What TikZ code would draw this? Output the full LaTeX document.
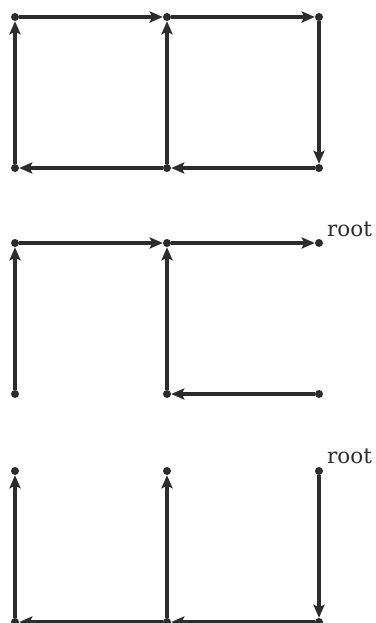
\documentclass[tikz,border=0pt]{standalone}
\usepackage{fontspec}
\newfontfamily\lblfont{DejaVu Serif}
\usetikzlibrary{arrows.meta}
\definecolor{ink}{HTML}{2E2B2B}
\tikzset{
  vtx/.style={circle,fill=ink,inner sep=0pt,minimum size=8pt},
  edge/.style={draw=ink,line width=3.2pt,-{Stealth[length=13pt,width=11pt,inset=2.5pt]}},
  rootlbl/.style={anchor=base west,text=ink,inner sep=0pt,font=\lblfont\fontsize{21.5}{26}\selectfont}
}
\begin{document}
\begin{tikzpicture}[x=1pt,y=-1pt]
\useasboundingbox (0,0) rectangle (375,623);
% full graph
\node[vtx] (a1) at (15,17) {};
\node[vtx] (a2) at (167,17) {};
\node[vtx] (a3) at (319,17) {};
\node[vtx] (a4) at (15,168) {};
\node[vtx] (a5) at (167,168) {};
\node[vtx] (a6) at (319,168) {};
\draw[edge] (a1) -- (a2);
\draw[edge] (a2) -- (a3);
\draw[edge] (a3) -- (a6);
\draw[edge] (a6) -- (a5);
\draw[edge] (a5) -- (a4);
\draw[edge] (a4) -- (a1);
\draw[edge] (a5) -- (a2);
% first tree
\node[vtx] (b1) at (15,243) {};
\node[vtx] (b2) at (167,243) {};
\node[vtx] (b3) at (319,243) {};
\node[vtx] (b4) at (15,394) {};
\node[vtx] (b5) at (167,394) {};
\node[vtx] (b6) at (319,394) {};
\draw[edge] (b4) -- (b1);
\draw[edge] (b1) -- (b2);
\draw[edge] (b5) -- (b2);
\draw[edge] (b6) -- (b5);
\draw[edge] (b2) -- (b3);
\node[rootlbl] (rb) at ([xshift=8pt,yshift=7pt]b3.center) {root};
% second tree
\node[vtx] (c1) at (15,471) {};
\node[vtx] (c2) at (167,471) {};
\node[vtx] (c3) at (319,471) {};
\node[vtx] (c4) at (15,622) {};
\node[vtx] (c5) at (167,622) {};
\node[vtx] (c6) at (319,622) {};
\draw[edge] (c4) -- (c1);
\draw[edge] (c5) -- (c2);
\draw[edge] (c3) -- (c6);
\draw[edge] (c6) -- (c5);
\draw[edge] (c5) -- (c4);
\node[rootlbl] (rc) at ([xshift=8pt,yshift=8pt]c3.center) {root};
\end{tikzpicture}
\end{document}
